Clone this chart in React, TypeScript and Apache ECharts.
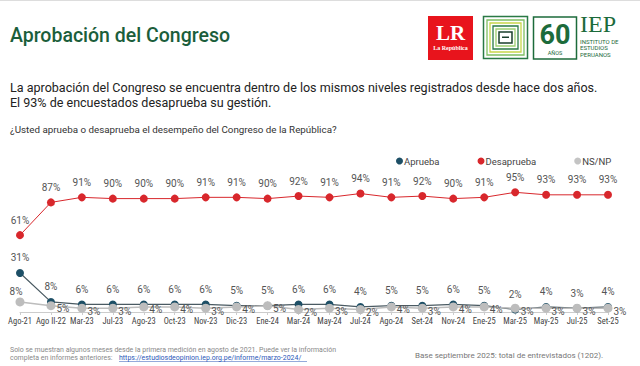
import React, { useEffect, useRef } from "react";
import * as echarts from "echarts";

const categories = ["Ago-21","Ago II-22","Mar-23","Jul-23","Ago-23","Oct-23","Nov-23","Dic-23","Ene-24","Mar-24","May-24","Jul-24","Ago-24","Set-24","Nov-24","Ene-25","Mar-25","May-25","Jul-25","Set-25"];
const aprueba = [31,8,6,6,6,6,6,5,5,6,6,4,5,5,6,5,2,4,3,4];
const desaprueba = [61,87,91,90,90,90,91,91,90,92,91,94,91,92,90,91,95,93,93,93];
const nsnp = [8,5,3,3,4,4,3,4,5,2,3,2,4,3,4,4,3,3,3,3];

const FONT = "Roboto, 'Noto Sans', sans-serif";
const NARROW = "'Roboto Condensed', 'DejaVu Sans Condensed', 'Liberation Sans Narrow', 'Arial Narrow', Roboto, sans-serif";
const GREEN = "#1c6b3b";

export default function App() {
  const ref = useRef<HTMLDivElement>(null);
  useEffect(() => {
    const chart = echarts.init(ref.current!, undefined, { renderer: "svg" });
    const labelBase = { show: true, formatter: "{c}%", color: "#555", fontSize: 10, fontFamily: FONT };
    chart.setOption({
      animation: false,
      backgroundColor: "#fff",
      textStyle: { fontFamily: FONT },
      grid: { left: 20, right: 32, top: 186, bottom: 54, containLabel: false },
      legend: {
        left: 391, top: 151, icon: "circle", itemWidth: 7, itemHeight: 7, itemGap: 38,
        textStyle: { fontSize: 9.5, color: "#444", fontFamily: FONT, padding: [0, 0, 0, -4] },
        data: [
          { name: "Aprueba" },
          { name: "Desaprueba" },
          { name: "NS/NP", itemStyle: { color: "#c4c4c4" } },
        ],
      },
      xAxis: {
        type: "category", data: categories, boundaryGap: false,
        axisLine: { lineStyle: { color: "#ccc" } },
        axisTick: { show: true, lineStyle: { color: "#ccc" }, length: 3 },
        axisLabel: { interval: 0, fontSize: 8.5, color: "#444", margin: 4, fontFamily: NARROW },
      },
      yAxis: { type: "value", min: 0, max: 100, show: false, splitLine: { show: false } },
      series: [
        {
          name: "Desaprueba", type: "line", data: desaprueba, symbol: "circle", symbolSize: 8,
          itemStyle: { color: "#d8272c" }, lineStyle: { color: "#d8272c", width: 1 },
          label: { ...labelBase, position: "top", distance: 6 }, z: 3,
        },
        {
          name: "Aprueba", type: "line", data: aprueba, symbol: "circle", symbolSize: 8,
          itemStyle: { color: "#1d4f66" }, lineStyle: { color: "#4a5a62", width: 1.2 },
          label: { ...labelBase, position: "top", distance: 6 }, z: 3,
        },
        {
          name: "NS/NP", type: "line",
          data: nsnp.map((v, i) => i === 0 ? { value: v, label: { position: "top", offset: [-4, 0] } } : v),
          symbol: "circle", symbolSize: 9,
          itemStyle: { color: "#bdbdbd" }, lineStyle: { color: "#bdbdbd", width: 1.6 },
          label: { ...labelBase, position: "right", distance: 1, offset: [0, 3] }, z: 4,
        },
      ],
      graphic: [
        { type: "rect", shape: { x: 0, y: 0, width: 640, height: 1 }, style: { fill: "#ddd" } },
        { type: "text", x: 10, y: 25, style: { text: "Aprobación del Congreso", fill: "#1b5e3b", font: `500 19.5px ${FONT}` } },
        { type: "text", x: 10, y: 80, scaleX: 0.93, style: { text: "La aprobación del Congreso se encuentra dentro de los mismos niveles registrados desde hace dos años.", fill: "#222", font: `13.5px ${FONT}` } },
        { type: "text", x: 10, y: 95, scaleX: 0.93, style: { text: "El 93% de encuestados desaprueba su gestión.", fill: "#222", font: `13.5px ${FONT}` } },
        { type: "text", x: 10, y: 124, style: { text: "¿Usted aprueba o desaprueba el desempeño del Congreso de la República?", fill: "#333", font: `9.8px ${FONT}` } },
        // LR logo
        { type: "rect", shape: { x: 428, y: 16, width: 45, height: 44 }, style: { fill: "#e8141c" } },
        { type: "text", x: 450.5, y: 22, style: { text: "LR", fill: "#fff", font: "bold 21px 'Liberation Serif', serif", align: "center" } },
        { type: "text", x: 450.5, y: 45, style: { text: "La República", fill: "#fff", font: "bold 6px 'Liberation Serif', serif", align: "center" } },
        // square pattern logo
        { type: "rect", shape: { x: 483.5, y: 16.5, width: 44, height: 42 }, style: { fill: "#fff", stroke: "#2a7a45", lineWidth: 1.5 } },
        { type: "rect", shape: { x: 487, y: 20, width: 37, height: 35 }, style: { fill: "#fff", stroke: "#7fbf63", lineWidth: 1.3 } },
        { type: "rect", shape: { x: 490, y: 23, width: 31, height: 29 }, style: { fill: "#fff", stroke: "#c7d64a", lineWidth: 1.3 } },
        { type: "rect", shape: { x: 493, y: 26, width: 25, height: 23 }, style: { fill: "#fff", stroke: "#2a7a45", lineWidth: 1.3 } },
        { type: "rect", shape: { x: 496, y: 29, width: 19, height: 17 }, style: { fill: "#fff", stroke: "#9fcf72", lineWidth: 1.3 } },
        { type: "rect", shape: { x: 499, y: 32, width: 13, height: 11 }, style: { fill: "#fff", stroke: "#1a3f2c", lineWidth: 1.5 } },
        { type: "rect", shape: { x: 502, y: 36.5, width: 7, height: 1.5 }, style: { fill: "#1a3f2c" } },
        // 60 logo
        { type: "rect", shape: { x: 533.5, y: 17, width: 43, height: 42 }, style: { fill: "#fff", stroke: GREEN, lineWidth: 1.5 } },
        { type: "text", x: 555, y: 21, style: { text: "60", fill: GREEN, font: `bold 27px ${FONT}`, align: "center" } },
        { type: "text", x: 555, y: 50, style: { text: "AÑOS", fill: GREEN, font: `5.5px ${FONT}`, align: "center" } },
        { type: "text", x: 580, y: 12, style: { text: "IEP", fill: GREEN, font: "24px 'Liberation Serif', serif" } },
        { type: "text", x: 580, y: 38, style: { text: "INSTITUTO DE\nESTUDIOS\nPERUANOS", fill: GREEN, font: `6px ${FONT}`, lineHeight: 6.5 } },
        // footer
        { type: "text", x: 10, y: 345, scaleX: 0.93, style: { text: "Solo se muestran algunos meses desde la primera medición en agosto de 2021. Puede ver la información", fill: "#888", font: `7.5px ${FONT}` } },
        { type: "text", x: 10, y: 353, scaleX: 0.93, style: { text: "completa en informes anteriores:", fill: "#888", font: `7.5px ${FONT}` } },
        { type: "text", x: 119, y: 353, scaleX: 0.93, style: { text: "https://estudiosdeopinion.iep.org.pe/informe/marzo-2024/", fill: "#2b57b8", font: `7.5px ${FONT}` } },
        { type: "rect", shape: { x: 119, y: 361, width: 188, height: 0.6 }, style: { fill: "#2b57b8" } },
        { type: "text", x: 415, y: 351, style: { text: "Base septiembre 2025: total de entrevistados (1202).", fill: "#777", font: `8px ${FONT}` } },
      ],
    });
    return () => chart.dispose();
  }, []);
  return <div ref={ref} style={{ position: "fixed", left: 0, top: 0, width: 640, height: 366 }} />;
}
